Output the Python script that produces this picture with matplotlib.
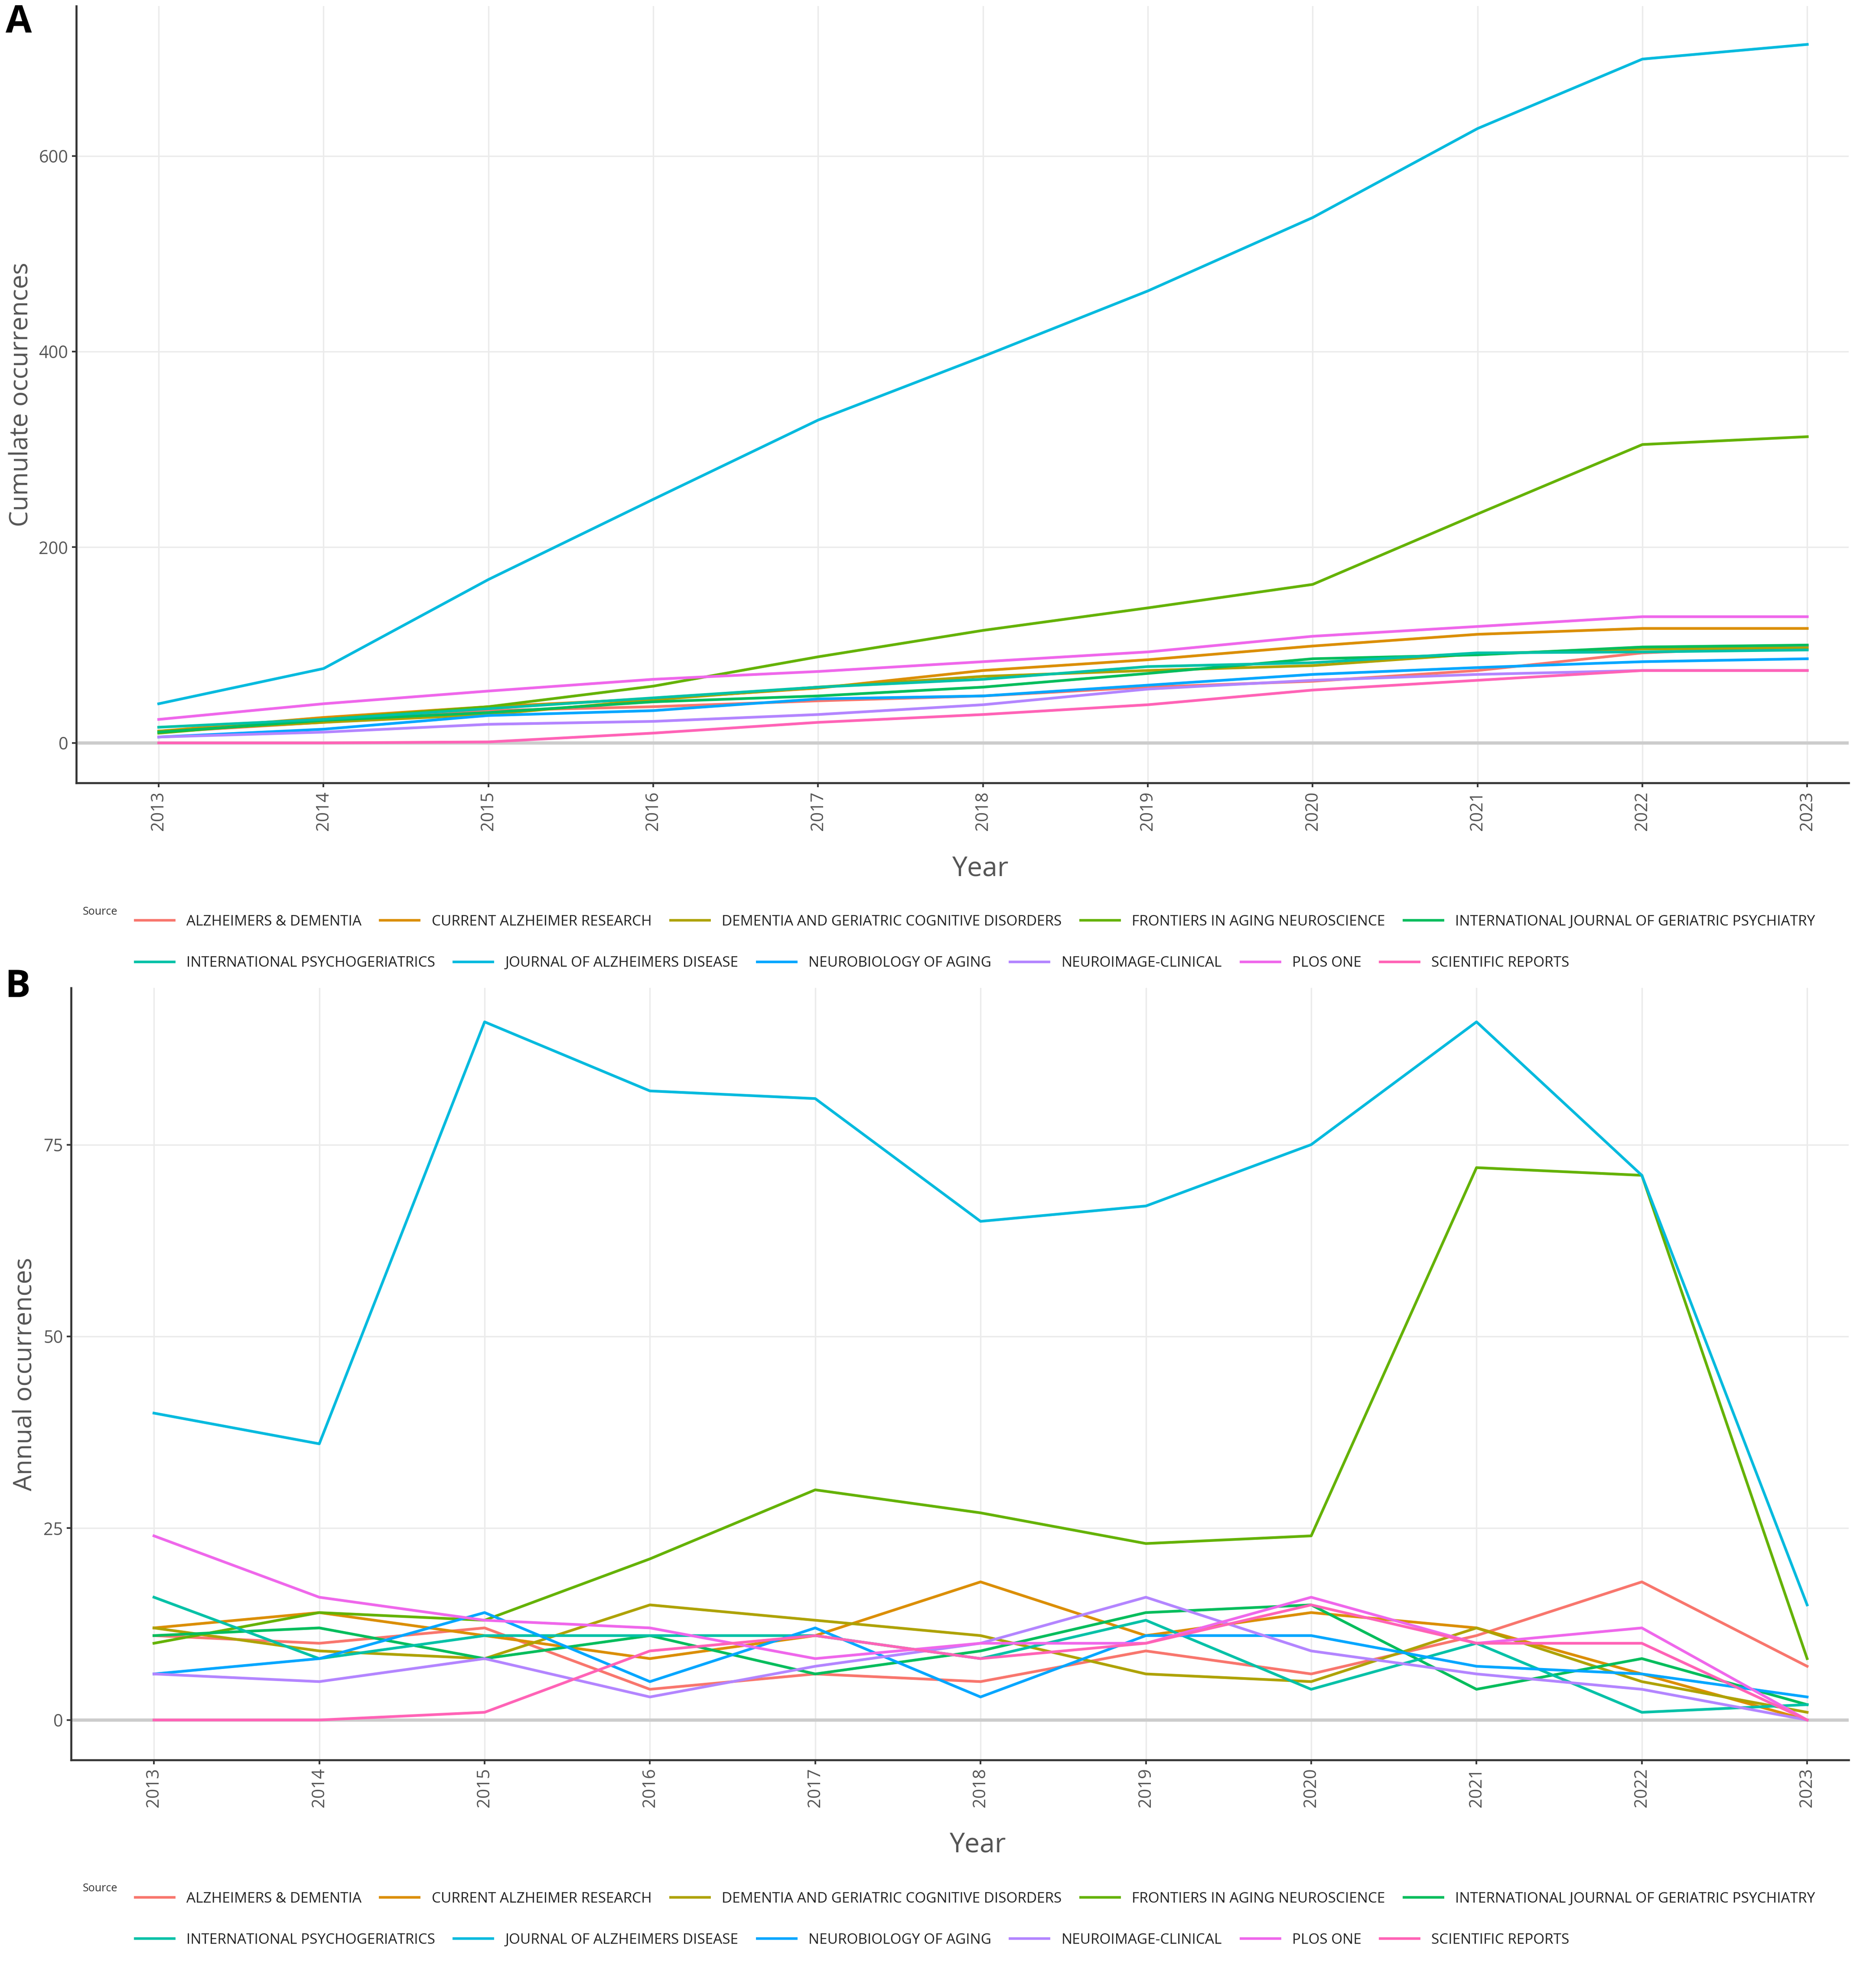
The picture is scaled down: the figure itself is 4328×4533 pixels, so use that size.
import matplotlib
matplotlib.use('Agg')
import matplotlib.pyplot as plt
from matplotlib.lines import Line2D

plt.rcParams['font.family'] = ['Open Sans', 'DejaVu Sans']

# data
years = [2013, 2014, 2015, 2016, 2017, 2018, 2019, 2020, 2021, 2022, 2023]

sources = ['ALZHEIMERS & DEMENTIA', 'CURRENT ALZHEIMER RESEARCH',
           'DEMENTIA AND GERIATRIC COGNITIVE DISORDERS', 'FRONTIERS IN AGING NEUROSCIENCE',
           'INTERNATIONAL JOURNAL OF GERIATRIC PSYCHIATRY', 'INTERNATIONAL PSYCHOGERIATRICS',
           'JOURNAL OF ALZHEIMERS DISEASE', 'NEUROBIOLOGY OF AGING', 'NEUROIMAGE-CLINICAL',
           'PLOS ONE', 'SCIENTIFIC REPORTS']

colors = ['#F8766D', '#DB8E00', '#AEA200', '#64B200', '#00BD5C', '#00C1A7',
          '#00BADE', '#00A6FF', '#B385FF', '#EF67EB', '#FF63B6']

# panel A: cumulative occurrences
alz_dem_cum = [11, 21, 33, 37, 43, 48, 57, 63, 74, 92, 99]
car_cum = [12, 26, 37, 45, 56, 74, 85, 99, 111, 117, 117]
dgcd_cum = [12, 21, 29, 44, 57, 68, 74, 79, 91, 96, 97]
frontiers_cum = [10, 24, 37, 58, 88, 115, 138, 162, 234, 305, 313]
ijgp_cum = [11, 23, 31, 42, 48, 57, 71, 86, 90, 98, 100]
intpsy_cum = [16, 24, 35, 46, 57, 65, 78, 82, 92, 93, 95]
jad_cum = [40, 76, 167, 249, 330, 395, 462, 537, 628, 699, 714]
neurobio_cum = [6, 14, 28, 33, 45, 48, 59, 70, 77, 83, 86]
neuroimage_cum = [6, 11, 19, 22, 29, 39, 55, 64, 70, 74, 74]
plos_cum = [24, 40, 53, 65, 73, 83, 93, 109, 119, 129, 129]
scirep_cum = [0, 0, 1, 10, 21, 29, 39, 54, 64, 74, 74]

# panel B: annual occurrences
alz_dem_annual = [11, 10, 12, 4, 6, 5, 9, 6, 11, 18, 7]
car_annual = [12, 14, 11, 8, 11, 18, 11, 14, 12, 6, 0]
dgcd_annual = [12, 9, 8, 15, 13, 11, 6, 5, 12, 5, 1]
frontiers_annual = [10, 14, 13, 21, 30, 27, 23, 24, 72, 71, 8]
ijgp_annual = [11, 12, 8, 11, 6, 9, 14, 15, 4, 8, 2]
intpsy_annual = [16, 8, 11, 11, 11, 8, 13, 4, 10, 1, 2]
jad_annual = [40, 36, 91, 82, 81, 65, 67, 75, 91, 71, 15]
neurobio_annual = [6, 8, 14, 5, 12, 3, 11, 11, 7, 6, 3]
neuroimage_annual = [6, 5, 8, 3, 7, 10, 16, 9, 6, 4, 0]
plos_annual = [24, 16, 13, 12, 8, 10, 10, 16, 10, 12, 0]
scirep_annual = [0, 0, 1, 9, 11, 8, 10, 15, 10, 10, 0]

cum_series = [alz_dem_cum, car_cum, dgcd_cum, frontiers_cum, ijgp_cum, intpsy_cum,
              jad_cum, neurobio_cum, neuroimage_cum, plos_cum, scirep_cum]
annual_series = [alz_dem_annual, car_annual, dgcd_annual, frontiers_annual, ijgp_annual,
                 intpsy_annual, jad_annual, neurobio_annual, neuroimage_annual,
                 plos_annual, scirep_annual]

W, H = 1500.0, 1571.0   # layout measured on the reduced picture

fig = plt.figure(figsize=(4328 / 300, 4533 / 300), dpi=300)


def px_box(left, top, right, bottom):
    return [left / W, 1 - bottom / H, (right - left) / W, (bottom - top) / H]


def style_axis(ax, ylim, yticks, ylabel, ylabel_x):
    ax.set_xlim(2012.5, 2023.25)
    ax.set_ylim(*ylim)
    ax.set_xticks(years)
    ax.set_xticklabels([str(y) for y in years], rotation=90)
    ax.set_yticks(yticks)
    ax.grid(True, color='#EBEBEB', linewidth=0.8)
    ax.set_axisbelow(True)
    ax.axhline(0, color='#CCCCCC', linewidth=1.8, zorder=1)
    for s in ['top', 'right']:
        ax.spines[s].set_visible(False)
    for s in ['left', 'bottom']:
        ax.spines[s].set_color('#333333')
        ax.spines[s].set_linewidth(1.1)
    ax.tick_params(axis='both', colors='#333333', labelcolor='#555555',
                   labelsize=9.5, length=2.5, width=0.9, pad=2)
    ax.set_xlabel('Year', fontsize=15, color='#555555')
    ax.xaxis.set_label_coords(0.51, -0.093)
    ax.set_ylabel(ylabel, fontsize=14, color='#555555', va='center')
    ax.yaxis.set_label_coords(ylabel_x, 0.5)


def add_legend(y_row1, y_row2, y_title):
    fig.text(66 / W, 1 - y_title / H, 'Source', fontsize=6, color='#333333',
             ha='left', va='center')
    rows = [(range(0, 5), y_row1), (range(5, 11), y_row2)]
    for idx, yrow in rows:
        handles = [Line2D([], [], color=colors[i], linewidth=1.4) for i in idx]
        labels = [sources[i] for i in idx]
        leg = fig.legend(handles, labels, loc='center left', ncol=len(labels),
                         bbox_to_anchor=(108 / W, 1 - yrow / H), frameon=False,
                         fontsize=8, handlelength=2.7, handletextpad=0.85,
                         columnspacing=1.3, borderpad=0, borderaxespad=0)
        for t in leg.get_texts():
            t.set_color('#222222')


# ---- panel A ----
axA = fig.add_axes(px_box(61, 5, 1478, 626))
for vals, c in zip(cum_series, colors):
    axA.plot(years, vals, color=c, linewidth=1.5, zorder=3)
style_axis(axA, (-41, 753), [0, 200, 400, 600], 'Cumulate occurrences', -0.031)
add_legend(737, 770, 729)
fig.text(15 / W, 1 - 18 / H, 'A', fontsize=21, fontweight='bold', ha='center', va='center')

# ---- panel B ----
axB = fig.add_axes(px_box(57, 790, 1478, 1407))
for vals, c in zip(annual_series, colors):
    axB.plot(years, vals, color=c, linewidth=1.5, zorder=3)
style_axis(axB, (-5.2, 95.4), [0, 25, 50, 75], 'Annual occurrences', -0.026)
add_legend(1518, 1551, 1510)
fig.text(14 / W, 1 - 789 / H, 'B', fontsize=21, fontweight='bold', ha='center', va='center')

fig.savefig('out.png', dpi=300)
